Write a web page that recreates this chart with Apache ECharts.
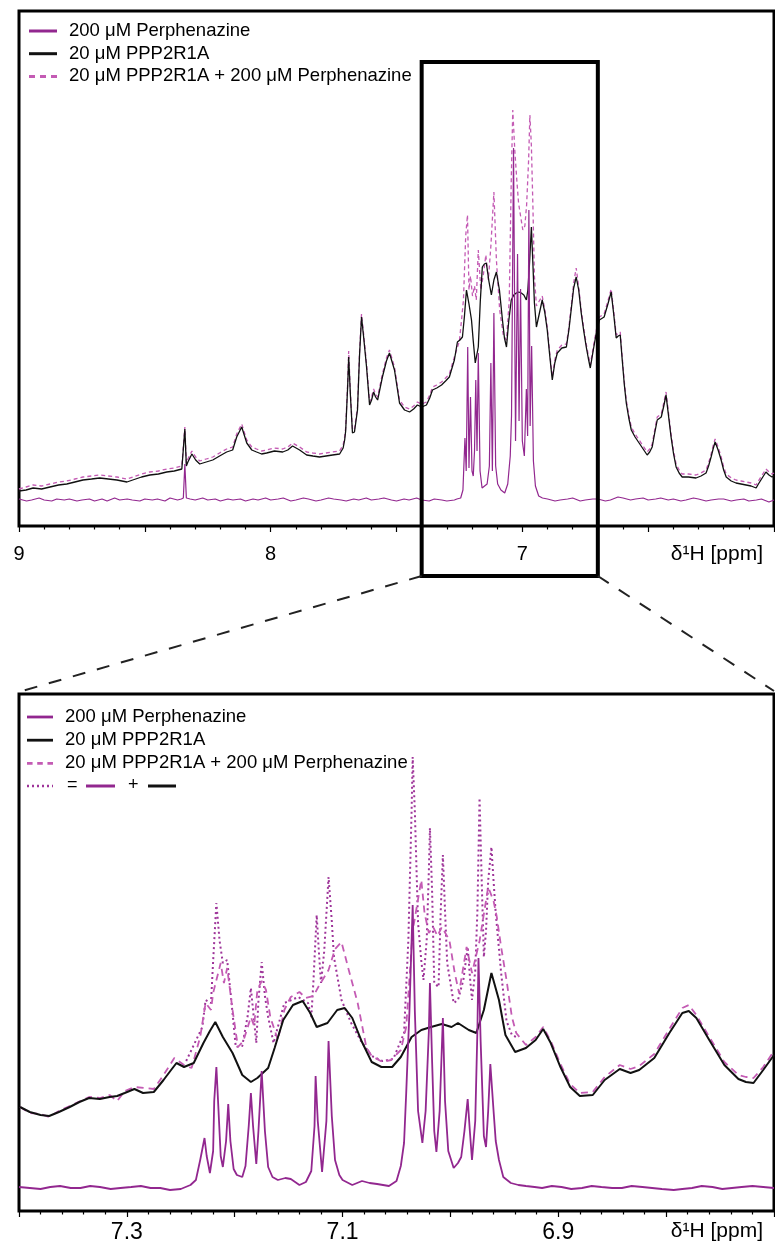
<!DOCTYPE html>
<html><head><meta charset="utf-8">
<script src="https://cdn.jsdelivr.net/npm/echarts@6/dist/echarts.min.js"></script>
<style>html,body{margin:0;padding:0;background:#fff}#c{width:775px;height:1246px}</style>
</head><body><div id="c"></div>
<script>
// ---------- names ----------
const seriesNames = ['200 μM Perphenazine', '20 μM PPP2R1A', '20 μM PPP2R1A + 200 μM Perphenazine'];
const axisTitle = 'δ¹H [ppm]';
const topTickLabels = [9, 8, 7];
const bottomTickLabels = [7.3, 7.1, 6.9];

// ---------- TOP PANEL (ppm, intensity a.u.) ----------
const topPerphenazine = [[9.00,27],[8.97,25],[8.95,26],[8.92,28],[8.90,26],[8.87,25],[8.85,27],[8.82,26],[8.80,27],[8.77,25],[8.75,26],[8.72,27],[8.70,25],[8.67,27],[8.65,25],[8.62,28],[8.60,26],[8.57,27],[8.55,26],[8.52,25],[8.50,27],[8.47,26],[8.45,27],[8.42,25],[8.40,28],[8.37,26],[8.355,27],[8.347,28],[8.341,62],[8.335,28],[8.32,27],[8.30,26],[8.27,28],[8.25,26],[8.22,27],[8.20,25],[8.17,27],[8.15,26],[8.12,27],[8.10,25],[8.07,27],[8.05,26],[8.02,28],[8.00,26],[7.97,27],[7.95,28],[7.92,25],[7.90,26],[7.87,28],[7.85,27],[7.82,25],[7.80,26],[7.77,28],[7.75,27],[7.72,26],[7.70,25],[7.67,27],[7.65,26],[7.62,28],[7.60,26],[7.57,27],[7.55,28],[7.52,26],[7.50,25],[7.47,27],[7.45,26],[7.42,28],[7.40,26],[7.37,25],[7.35,27],[7.32,26],[7.30,25],[7.27,26],[7.26,27],[7.245,28],[7.236,36],[7.228,88],[7.223,55],[7.217,179],[7.212,58],[7.206,129],[7.200,55],[7.195,50],[7.190,75],[7.185,146],[7.180,75],[7.175,173],[7.168,55],[7.160,38],[7.150,40],[7.140,42],[7.131,60],[7.125,163],[7.119,55],[7.113,213],[7.106,60],[7.098,42],[7.085,36],[7.070,33],[7.058,42],[7.048,70],[7.043,110],[7.035,378],[7.027,85],[7.019,272],[7.013,105],[7.007,237],[7.000,85],[6.992,70],[6.984,137],[6.979,90],[6.974,316],[6.969,100],[6.963,180],[6.956,65],[6.948,40],[6.935,30],[6.92,28],[6.90,27],[6.87,25],[6.85,26],[6.82,27],[6.80,28],[6.77,25],[6.75,26],[6.72,27],[6.70,27],[6.67,25],[6.65,26],[6.62,29],[6.60,28],[6.57,26],[6.55,27],[6.52,28],[6.50,26],[6.47,27],[6.45,28],[6.42,26],[6.40,27],[6.37,25],[6.35,26],[6.32,28],[6.30,27],[6.27,25],[6.25,26],[6.22,27],[6.20,27],[6.17,25],[6.15,26],[6.12,27],[6.10,25],[6.07,26],[6.05,27],[6.02,24],[6.00,26]];

const topProtein = [[9.000,35],[8.972,36],[8.944,38],[8.910,37],[8.877,39],[8.843,41],[8.810,42],[8.778,44],[8.746,46],[8.712,47],[8.679,48],[8.645,47],[8.611,46],[8.571,44],[8.548,46],[8.513,49],[8.480,51],[8.446,52],[8.413,54],[8.383,55],[8.353,57],[8.347,58],[8.341,97],[8.335,60],[8.329,64],[8.313,72],[8.298,66],[8.282,62],[8.256,64],[8.230,66],[8.203,70],[8.175,74],[8.151,76],[8.135,89],[8.115,99],[8.095,83],[8.075,76],[8.056,74],[8.036,72],[8.016,73],[7.985,75],[7.952,74],[7.932,76],[7.913,80],[7.885,76],[7.857,71],[7.832,70],[7.806,69],[7.780,70],[7.754,71],[7.726,72],[7.712,78],[7.706,86],[7.702,95],[7.694,140],[7.690,169],[7.683,130],[7.675,93],[7.667,94],[7.655,116],[7.647,170],[7.639,209],[7.631,190],[7.619,159],[7.607,121],[7.599,126],[7.591,134],[7.583,129],[7.575,126],[7.556,149],[7.540,165],[7.528,173],[7.508,156],[7.488,123],[7.468,116],[7.448,114],[7.432,117],[7.417,121],[7.400,119],[7.381,121],[7.368,128],[7.357,136],[7.340,138],[7.321,141],[7.305,145],[7.290,149],[7.270,166],[7.258,184],[7.248,186],[7.238,189],[7.230,210],[7.222,236],[7.212,222],[7.202,206],[7.195,185],[7.187,163],[7.175,179],[7.167,225],[7.159,259],[7.151,262],[7.143,263],[7.133,245],[7.123,231],[7.113,246],[7.103,254],[7.091,236],[7.079,206],[7.071,188],[7.063,179],[7.054,205],[7.044,226],[7.034,231],[7.024,233],[7.014,234],[7.004,233],[6.994,231],[6.984,226],[6.978,236],[6.972,260],[6.964,299],[6.958,262],[6.952,223],[6.944,199],[6.932,213],[6.921,226],[6.911,214],[6.901,196],[6.891,170],[6.881,146],[6.871,163],[6.861,173],[6.843,178],[6.825,179],[6.815,196],[6.806,216],[6.796,238],[6.786,249],[6.776,236],[6.766,213],[6.756,195],[6.746,179],[6.738,168],[6.730,158],[6.718,176],[6.706,193],[6.694,206],[6.675,209],[6.660,222],[6.647,234],[6.637,212],[6.627,188],[6.619,190],[6.611,191],[6.603,166],[6.595,142],[6.587,123],[6.577,108],[6.567,96],[6.552,89],[6.536,83],[6.520,77],[6.504,71],[6.494,74],[6.484,79],[6.474,93],[6.464,106],[6.448,109],[6.438,120],[6.429,131],[6.419,110],[6.409,89],[6.399,72],[6.389,59],[6.377,53],[6.365,49],[6.340,49],[6.310,48],[6.290,50],[6.270,53],[6.260,60],[6.250,69],[6.242,77],[6.234,84],[6.222,76],[6.210,66],[6.200,56],[6.190,49],[6.170,45],[6.151,43],[6.131,42],[6.111,41],[6.091,40],[6.071,38],[6.062,42],[6.052,46],[6.042,50],[6.032,54],[6.020,51],[6.008,49],[6.000,50]];

const topMixture = [[9.000,37],[8.972,39],[8.944,41],[8.910,40],[8.877,42],[8.843,44],[8.810,45],[8.778,47],[8.746,49],[8.712,50],[8.679,51],[8.645,50],[8.611,49],[8.571,47],[8.548,49],[8.513,52],[8.480,54],[8.446,55],[8.413,57],[8.383,58],[8.353,60],[8.347,61],[8.341,99],[8.335,63],[8.329,67],[8.313,75],[8.298,69],[8.282,65],[8.256,67],[8.230,69],[8.203,73],[8.175,77],[8.151,79],[8.135,92],[8.115,102],[8.095,86],[8.075,79],[8.056,77],[8.036,75],[8.016,76],[7.985,78],[7.952,77],[7.932,79],[7.913,83],[7.885,79],[7.857,74],[7.832,73],[7.806,72],[7.780,73],[7.754,74],[7.726,75],[7.712,81],[7.706,89],[7.702,98],[7.694,143],[7.690,175],[7.683,133],[7.675,96],[7.667,97],[7.655,119],[7.647,173],[7.639,212],[7.631,193],[7.619,162],[7.607,124],[7.599,129],[7.591,137],[7.583,132],[7.575,129],[7.556,152],[7.540,168],[7.528,176],[7.508,159],[7.488,126],[7.468,119],[7.448,117],[7.432,120],[7.417,124],[7.400,122],[7.381,124],[7.368,131],[7.357,139],[7.340,141],[7.321,144],[7.305,148],[7.290,152],[7.270,169],[7.25,185],[7.242,205],[7.234,226],[7.225,290],[7.218,311],[7.212,236],[7.206,250],[7.198,230],[7.190,240],[7.183,226],[7.175,276],[7.165,236],[7.155,251],[7.145,271],[7.135,246],[7.125,280],[7.113,334],[7.103,266],[7.090,216],[7.075,190],[7.063,186],[7.052,226],[7.044,346],[7.038,416],[7.030,376],[7.022,346],[7.015,323],[7.007,310],[6.998,296],[6.990,300],[6.983,321],[6.975,366],[6.970,411],[6.964,380],[6.958,320],[6.952,250],[6.944,220],[6.935,224],[6.921,230],[6.911,217],[6.901,199],[6.891,173],[6.881,149],[6.871,166],[6.861,176],[6.843,181],[6.825,182],[6.815,199],[6.806,219],[6.796,243],[6.786,258],[6.776,239],[6.766,216],[6.756,198],[6.746,182],[6.738,171],[6.730,161],[6.718,179],[6.706,196],[6.694,209],[6.675,212],[6.660,225],[6.647,237],[6.637,215],[6.627,191],[6.619,193],[6.611,194],[6.603,169],[6.595,145],[6.587,126],[6.577,111],[6.567,99],[6.552,92],[6.536,86],[6.520,80],[6.504,74],[6.494,77],[6.484,82],[6.474,96],[6.464,109],[6.448,112],[6.438,123],[6.429,134],[6.419,113],[6.409,92],[6.399,75],[6.389,62],[6.377,56],[6.365,52],[6.340,52],[6.310,51],[6.290,53],[6.270,56],[6.260,63],[6.250,72],[6.242,80],[6.234,87],[6.222,79],[6.210,69],[6.200,59],[6.190,52],[6.170,48],[6.151,46],[6.131,45],[6.111,44],[6.091,43],[6.071,41],[6.062,45],[6.052,49],[6.042,53],[6.032,57],[6.020,54],[6.008,52],[6.000,53]];

// ---------- BOTTOM PANEL (ppm, intensity a.u.) ----------
const botPerphenazine = [[7.400,24],[7.390,23],[7.380,22],[7.371,24],[7.362,25],[7.352,23],[7.343,23],[7.334,25],[7.325,24],[7.315,22],[7.306,23],[7.296,24],[7.287,25],[7.278,23],[7.269,23],[7.260,21],[7.250,22],[7.241,26],[7.236,31],[7.232,51],[7.230,62],[7.228,73],[7.226,55],[7.223,38],[7.220,60],[7.219,110],[7.217,144],[7.215,100],[7.213,55],[7.211,44],[7.208,70],[7.206,107],[7.204,70],[7.201,42],[7.198,36],[7.193,34],[7.190,45],[7.187,85],[7.185,118],[7.183,85],[7.180,47],[7.178,80],[7.175,140],[7.172,80],[7.169,44],[7.165,34],[7.160,31],[7.153,33],[7.148,32],[7.140,26],[7.134,29],[7.129,40],[7.126,85],[7.125,135],[7.123,90],[7.119,39],[7.115,90],[7.113,170],[7.110,95],[7.107,51],[7.103,36],[7.100,31],[7.091,26],[7.082,30],[7.075,28],[7.068,27],[7.057,25],[7.050,30],[7.046,45],[7.043,68],[7.041,118],[7.038,200],[7.035,306],[7.033,200],[7.030,100],[7.026,68],[7.023,100],[7.020,180],[7.019,228],[7.017,150],[7.015,80],[7.013,59],[7.010,100],[7.007,193],[7.005,110],[7.002,60],[6.997,43],[6.993,48],[6.990,54],[6.987,80],[6.984,112],[6.982,80],[6.980,51],[6.977,90],[6.975,180],[6.974,253],[6.972,170],[6.969,75],[6.967,64],[6.965,100],[6.963,147],[6.960,100],[6.958,70],[6.955,51],[6.951,34],[6.944,28],[6.937,26],[6.930,25],[6.922,24],[6.915,23],[6.906,25],[6.897,24],[6.888,22],[6.878,23],[6.869,25],[6.860,24],[6.850,23],[6.841,23],[6.832,25],[6.822,24],[6.813,23],[6.804,22],[6.793,21],[6.785,22],[6.776,23],[6.767,25],[6.757,24],[6.748,22],[6.739,23],[6.730,24],[6.720,25],[6.710,24],[6.700,23]];

const botProtein = [[7.399,104],[7.390,99],[7.380,96],[7.372,95],[7.363,99],[7.353,104],[7.344,109],[7.335,113],[7.325,112],[7.316,114],[7.309,115],[7.302,118],[7.293,122],[7.285,118],[7.275,119],[7.266,131],[7.259,141],[7.254,148],[7.247,144],[7.238,148],[7.229,168],[7.223,180],[7.218,189],[7.211,174],[7.202,158],[7.193,136],[7.185,129],[7.179,133],[7.169,143],[7.163,163],[7.155,191],[7.146,206],[7.137,210],[7.130,198],[7.124,184],[7.114,188],[7.105,201],[7.098,203],[7.091,193],[7.082,169],[7.073,149],[7.064,144],[7.054,144],[7.046,154],[7.036,174],[7.027,181],[7.018,184],[7.008,187],[6.999,184],[6.993,188],[6.983,181],[6.976,178],[6.969,201],[6.962,238],[6.955,211],[6.949,176],[6.940,159],[6.930,163],[6.921,171],[6.914,182],[6.907,168],[6.898,144],[6.889,124],[6.880,115],[6.868,116],[6.857,131],[6.843,142],[6.833,138],[6.825,141],[6.811,153],[6.797,178],[6.785,198],[6.779,200],[6.772,193],[6.760,171],[6.746,146],[6.733,132],[6.726,129],[6.719,128],[6.710,141],[6.700,156]];

const botMixture = [[7.399,104],[7.390,98],[7.380,97],[7.372,94],[7.363,100],[7.353,105],[7.335,114],[7.325,113],[7.316,116],[7.309,110],[7.302,120],[7.293,124],[7.275,122],[7.266,136],[7.256,153],[7.247,146],[7.240,143],[7.232,174],[7.227,208],[7.222,201],[7.220,218],[7.213,248],[7.210,228],[7.207,243],[7.202,201],[7.197,164],[7.192,170],[7.185,194],[7.182,185],[7.179,221],[7.175,230],[7.171,221],[7.167,194],[7.160,171],[7.154,201],[7.148,214],[7.140,219],[7.134,213],[7.127,215],[7.122,225],[7.113,241],[7.107,262],[7.101,269],[7.095,244],[7.086,208],[7.078,164],[7.073,155],[7.063,149],[7.055,151],[7.046,161],[7.041,184],[7.035,280],[7.027,331],[7.024,298],[7.020,278],[7.016,284],[7.012,275],[7.008,284],[7.001,271],[6.996,238],[6.992,218],[6.985,264],[6.980,238],[6.973,270],[6.965,324],[6.960,310],[6.957,294],[6.953,264],[6.948,231],[6.943,194],[6.939,178],[6.930,166],[6.921,174],[6.914,184],[6.907,170],[6.898,147],[6.889,127],[6.880,118],[6.868,119],[6.857,134],[6.843,146],[6.833,142],[6.825,145],[6.811,157],[6.797,182],[6.785,203],[6.779,206],[6.772,196],[6.760,174],[6.746,149],[6.733,136],[6.726,134],[6.719,133],[6.710,144],[6.700,160]];

const botSum = [[7.245,150],[7.230,184],[7.227,211],[7.222,208],[7.220,250],[7.217,308],[7.214,270],[7.211,248],[7.207,251],[7.204,220],[7.199,164],[7.193,165],[7.188,195],[7.185,223],[7.182,190],[7.180,168],[7.178,210],[7.175,249],[7.172,215],[7.169,194],[7.164,168],[7.154,208],[7.141,214],[7.132,208],[7.129,194],[7.127,230],[7.124,296],[7.122,260],[7.120,228],[7.117,260],[7.113,334],[7.110,290],[7.108,254],[7.101,211],[7.092,188],[7.083,170],[7.073,155],[7.063,150],[7.053,152],[7.043,178],[7.039,271],[7.036,400],[7.035,454],[7.033,400],[7.030,288],[7.027,250],[7.025,231],[7.022,271],[7.020,340],[7.019,383],[7.017,320],[7.015,228],[7.011,224],[7.009,300],[7.007,356],[7.005,300],[7.003,248],[6.997,208],[6.993,211],[6.988,231],[6.984,264],[6.982,235],[6.980,211],[6.977,240],[6.975,300],[6.973,413],[6.971,330],[6.969,254],[6.967,280],[6.965,330],[6.962,364],[6.960,330],[6.958,298],[6.953,238],[6.948,190],[6.943,176],[6.939,174]];

// ---------- style ----------
const PURPLE = '#92278f';
const PINK = '#c45bb4';
const DOT = '#9e3499';
const BLACK = '#111111';
const FONT = 'Liberation Sans, Arial, Helvetica, sans-serif';
const ICON_SOLID = 'path://M0,0H28V3H0Z';
const ICON_DASH = 'path://M0,0H6V3H0Z M11,0H17V3H11Z M22,0H28V3H22Z';

const chart = echarts.init(document.getElementById('c'), null, {renderer: 'canvas'});

function topLabel(v) {
  const r = Math.round(v * 10);
  if (r === 60) return '{u|' + axisTitle + '}';
  if (topTickLabels.some(t => Math.round(t * 10) === r)) return '{d|' + (r / 10) + '}';
  return '';
}
function botLabel(v) {
  const r = Math.round(v * 10);
  if (r === 67) return '{u|' + axisTitle + '}';
  if (bottomTickLabels.some(t => Math.round(t * 10) === r)) return '{d|' + (r / 10).toFixed(1) + '}';
  return '';
}

function xAxisCfg(grid, min, max, interval, fmt, digitSize, margin) {
  return {
    type: 'value', gridIndex: grid, min: min, max: max, interval: interval, inverse: true,
    axisLine: {show: false},
    axisTick: {show: true, inside: false, length: 6, lineStyle: {color: '#000', width: 1.2}},
    minorTick: {show: true, splitNumber: 5, length: 3.5, lineStyle: {color: '#000', width: 1.2}},
    splitLine: {show: false},
    axisLabel: {
      show: true, margin: margin, showMinLabel: true, showMaxLabel: true,
      alignMinLabel: 'right',
      formatter: fmt,
      rich: {
        d: {fontSize: digitSize, fontFamily: FONT, color: '#000'},
        u: {fontSize: 21, fontFamily: FONT, color: '#000', padding: [0, 11, 0, 0]}
      }
    }
  };
}

function line(name, data, xi, color, width, type, z) {
  return {
    name: name, type: 'line', xAxisIndex: xi, yAxisIndex: xi, data: data,
    showSymbol: false, symbol: 'none', smooth: false, z: z, animation: false,
    lineStyle: {color: color, width: width, type: type},
    itemStyle: {color: color}
  };
}

const legendText = {fontSize: 18.5, fontFamily: FONT, color: '#000', lineHeight: 20, padding: [0, 0, 0, 7]};
function legendCfg(left, top, itemW, gap) {
  return {
    orient: 'vertical', left: left, top: top, padding: 0, itemWidth: itemW, itemHeight: 3, itemGap: gap,
    selectedMode: false, textStyle: legendText,
    data: [
      {name: seriesNames[0], icon: ICON_SOLID, itemStyle: {color: PURPLE}},
      {name: seriesNames[1], icon: ICON_SOLID, itemStyle: {color: BLACK}},
      {name: seriesNames[2], icon: ICON_DASH, itemStyle: {color: PINK}}
    ]
  };
}

const option = {
  animation: false,
  backgroundColor: '#fff',
  grid: [
    {left: 19, top: 11, width: 755, height: 515, show: true, borderColor: '#000', borderWidth: 3, backgroundColor: 'transparent'},
    {left: 19, top: 694, width: 755, height: 517, show: true, borderColor: '#000', borderWidth: 3, backgroundColor: 'transparent'}
  ],
  xAxis: [
    xAxisCfg(0, 6, 9, 0.5, topLabel, 20, 18),
    xAxisCfg(1, 6.7, 7.4, 0.1, botLabel, 23, 10)
  ],
  yAxis: [
    {type: 'value', gridIndex: 0, min: 0, max: 515, show: false},
    {type: 'value', gridIndex: 1, min: 0, max: 517, show: false}
  ],
  legend: [legendCfg(29, 21, 28, 2.7), legendCfg(27, 707, 26, 3.2)],
  series: [
    line(seriesNames[2], topMixture, 0, PINK, 1.3, [4, 3], 2),
    line(seriesNames[1], topProtein, 0, BLACK, 1.3, 'solid', 3),
    line(seriesNames[0], topPerphenazine, 0, PURPLE, 1.2, 'solid', 4),
    line('sum', botSum, 1, DOT, 2, [2, 3], 2),
    line(seriesNames[2], botMixture, 1, PINK, 1.8, [7, 5], 3),
    line(seriesNames[1], botProtein, 1, BLACK, 2, 'solid', 4),
    line(seriesNames[0], botPerphenazine, 1, PURPLE, 1.8, 'solid', 5)
  ]
};
chart.setOption(option);

// zoom box + connectors, positions from the axes
const bx1 = chart.convertToPixel({xAxisIndex: 0}, 7.4);
const bx2 = chart.convertToPixel({xAxisIndex: 0}, 6.7);
const byTop = chart.convertToPixel({yAxisIndex: 0}, 464);
const byBot = chart.convertToPixel({yAxisIndex: 0}, 0) + 50;
const gx1 = chart.convertToPixel({xAxisIndex: 1}, 7.4);
const gx2 = chart.convertToPixel({xAxisIndex: 1}, 6.7);
const gyTop = chart.convertToPixel({yAxisIndex: 1}, 517) - 3;

const legRowY = 786;
chart.setOption({
  graphic: [
    {type: 'rect', shape: {x: bx1, y: byTop, width: bx2 - bx1, height: byBot - byTop}, style: {fill: 'none', stroke: '#000', lineWidth: 4}, z: 100},
    {type: 'line', shape: {x1: bx1, y1: byBot, x2: gx1 + 3, y2: gyTop}, style: {stroke: '#222', lineWidth: 2, lineDash: [13, 12]}, z: 100},
    {type: 'line', shape: {x1: bx2, y1: byBot, x2: gx2, y2: gyTop}, style: {stroke: '#222', lineWidth: 2, lineDash: [13, 12]}, z: 100},
    {type: 'line', shape: {x1: 27, y1: legRowY, x2: 53, y2: legRowY}, style: {stroke: DOT, lineWidth: 2.5, lineDash: [2, 3]}, z: 100},
    {type: 'text', left: 67, top: legRowY - 10, style: {text: '=', font: '18px ' + FONT, fill: '#000'}, z: 100},
    {type: 'line', shape: {x1: 86, y1: legRowY, x2: 115, y2: legRowY}, style: {stroke: PURPLE, lineWidth: 3}, z: 100},
    {type: 'text', left: 128, top: legRowY - 10, style: {text: '+', font: '18px ' + FONT, fill: '#000'}, z: 100},
    {type: 'line', shape: {x1: 148, y1: legRowY, x2: 176, y2: legRowY}, style: {stroke: BLACK, lineWidth: 3}, z: 100}
  ]
});
</script>
</body></html>
